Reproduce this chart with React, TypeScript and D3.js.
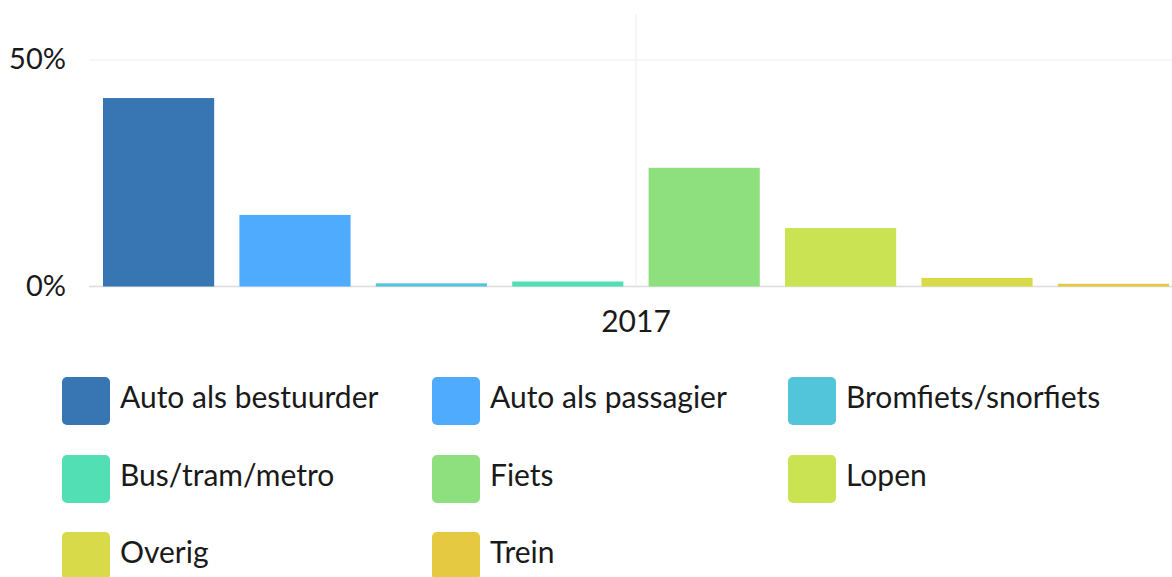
import React, { useEffect, useRef } from "react";
import * as d3 from "d3";

const categories = ["2017"];
const seriesNames = [
  "Auto als bestuurder",
  "Auto als passagier",
  "Bromfiets/snorfiets",
  "Bus/tram/metro",
  "Fiets",
  "Lopen",
  "Overig",
  "Trein",
];
const seriesValues = [41.6, 15.8, 0.7, 1.1, 26.2, 12.9, 1.9, 0.6];
const seriesColors = [
  "#3776b3",
  "#4fabfd",
  "#52c5db",
  "#52dfb4",
  "#8ee07e",
  "#c9e352",
  "#d9da4a",
  "#e4c941",
];
const yTicks = [0, 50];

export default function App() {
  const ref = useRef<SVGSVGElement>(null);
  useEffect(() => {
    const svg = d3.select(ref.current);
    svg.selectAll("*").remove();
    const font = "Lato, 'Open Sans', sans-serif";
    const left = 89, right = 1183, top = 14, bottom = 286.5;
    const y = d3.scaleLinear().domain([0, 50]).range([bottom, 60]);
    const x0 = d3.scaleBand().domain(categories).range([left, right]);
    const x1 = d3
      .scaleBand()
      .domain(seriesNames)
      .range([14, x0.bandwidth() - 14])
      .paddingInner(0.185);

    svg
      .selectAll(".hg")
      .data(yTicks.filter((t) => t !== 0))
      .join("line")
      .attr("x1", left)
      .attr("x2", 1172)
      .attr("y1", (d) => y(d))
      .attr("y2", (d) => y(d))
      .attr("stroke", "#f3f3f3")
      .attr("stroke-width", 1.5);
    categories.forEach((c) => {
      const cx = x0(c)! + x0.bandwidth() / 2;
      svg
        .append("line")
        .attr("x1", cx)
        .attr("x2", cx)
        .attr("y1", top)
        .attr("y2", bottom)
        .attr("stroke", "#f3f3f3")
        .attr("stroke-width", 1.5);
    });

    svg
      .append("line")
      .attr("x1", left)
      .attr("x2", 1172)
      .attr("y1", y(0))
      .attr("y2", y(0))
      .attr("stroke", "#dcdcdc")
      .attr("stroke-width", 1.5);

    svg
      .selectAll(".yl")
      .data(yTicks)
      .join("text")
      .attr("x", 66)
      .attr("y", (d) => y(d) + 9)
      .attr("text-anchor", "end")
      .attr("font-family", font)
      .attr("font-size", 29)
      .attr("fill", "#1a1a1a")
      .text((d) => `${d}%`);

    categories.forEach((c) => {
      const g = svg.append("g").attr("transform", `translate(${x0(c)},0)`);
      g.selectAll("rect")
        .data(seriesNames.map((n, i) => ({ n, v: seriesValues[i], col: seriesColors[i] })))
        .join("rect")
        .attr("x", (d) => x1(d.n)!)
        .attr("width", x1.bandwidth())
        .attr("y", (d) => y(d.v))
        .attr("height", (d) => y(0) - y(d.v))
        .attr("fill", (d) => d.col);
      svg
        .append("text")
        .attr("x", x0(c)! + x0.bandwidth() / 2)
        .attr("y", 332)
        .attr("text-anchor", "middle")
        .attr("font-family", font)
        .attr("font-size", 30)
        .attr("fill", "#1a1a1a")
        .text(c);
    });

    const colX = [62, 432, 788];
    const rowY = [377, 455, 532];
    seriesNames.forEach((n, i) => {
      const cx = colX[i % 3];
      const ry = rowY[Math.floor(i / 3)];
      svg
        .append("rect")
        .attr("x", cx)
        .attr("y", ry)
        .attr("width", 48)
        .attr("height", 48)
        .attr("rx", 5)
        .attr("fill", seriesColors[i]);
      svg
        .append("text")
        .attr("x", cx + 58)
        .attr("y", ry + 31)
        .attr("font-family", font)
        .attr("font-size", 30)
        .attr("fill", "#1a1a1a")
        .text(n);
    });
  }, []);
  return (
    <svg
      ref={ref}
      width={1172}
      height={577}
      style={{ position: "absolute", left: 0, top: 0, background: "#fff" }}
    />
  );
}
